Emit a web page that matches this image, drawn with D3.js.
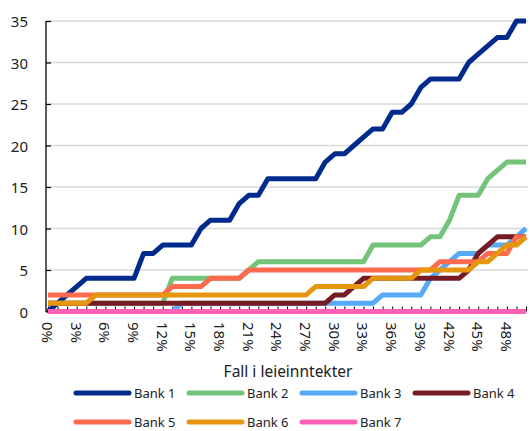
<!DOCTYPE html>
<html><head><meta charset="utf-8">
<script src="https://cdn.jsdelivr.net/npm/d3@7/dist/d3.min.js"></script>
<style>body{margin:0;background:#fff;} text{font-family:"Noto Sans","Open Sans",sans-serif;fill:#222;}</style>
</head><body><svg id="c" width="530" height="431"></svg>
<script>
const categories = [0,1,2,3,4,5,6,7,8,9,10,11,12,13,14,15,16,17,18,19,20,21,22,23,24,25,26,27,28,29,30,31,32,33,34,35,36,37,38,39,40,41,42,43,44,45,46,47,48,49,50];
const bank1 = [0,1,2,3,4,4,4,4,4,4,7,7,8,8,8,8,10,11,11,11,13,14,14,16,16,16,16,16,16,18,19,19,20,21,22,22,24,24,25,27,28,28,28,28,30,31,32,33,33,35,35];
const bank2 = [1,1,1,1,1,1,1,1,1,1,1,1,1,4,4,4,4,4,4,4,4,5,6,6,6,6,6,6,6,6,6,6,6,6,8,8,8,8,8,8,9,9,11,14,14,14,16,17,18,18,18];
const bank3 = [0,0,0,0,0,0,0,0,0,0,0,0,0,0,1,1,1,1,1,1,1,1,1,1,1,1,1,1,1,1,1,1,1,1,1,2,2,2,2,2,4,5,6,7,7,7,8,8,8,9,10];
const bank4 = [1,1,1,1,1,1,1,1,1,1,1,1,1,1,1,1,1,1,1,1,1,1,1,1,1,1,1,1,1,1,2,2,3,4,4,4,4,4,4,4,4,4,4,4,5,7,8,9,9,9,9];
const bank5 = [2,2,2,2,2,2,2,2,2,2,2,2,2,3,3,3,3,4,4,4,4,5,5,5,5,5,5,5,5,5,5,5,5,5,5,5,5,5,5,5,5,6,6,6,6,6,7,7,7,9,9];
const bank6 = [1,1,1,1,1,2,2,2,2,2,2,2,2,2,2,2,2,2,2,2,2,2,2,2,2,2,2,2,3,3,3,3,3,3,4,4,4,4,4,5,5,5,5,5,5,6,6,7,8,8,9];
const bank7 = [0,0,0,0,0,0,0,0,0,0,0,0,0,0,0,0,0,0,0,0,0,0,0,0,0,0,0,0,0,0,0,0,0,0,0,0,0,0,0,0,0,0,0,0,0,0,0,0,0,0,0];
const seriesNames = ["Bank 1","Bank 2","Bank 3","Bank 4","Bank 5","Bank 6","Bank 7"];
const seriesColors = ["#002a8c","#73c378","#57aaf8","#761b24","#fe6a4e","#e6950f","#ff62b5"];
const yTicks = [0,5,10,15,20,25,30,35];
const xLabelTicks = [0,3,6,9,12,15,18,21,24,27,30,33,36,39,42,45,48];
const xTitle = "Fall i leieinntekter";

const series = [bank1,bank2,bank3,bank4,bank5,bank6,bank7];
const svg = d3.select("#c");
const x = d3.scaleLinear().domain([0,50]).range([48,526]);
const y = d3.scaleLinear().domain([0,35]).range([311.5,21]);
const axisX = 46;

// gridlines
svg.append("g").selectAll("line").data(yTicks.filter(d=>d>0)).join("line")
  .attr("x1",axisX).attr("x2",528).attr("y1",d=>y(d)).attr("y2",d=>y(d))
  .attr("stroke","#d9d9d9").attr("stroke-width",1.5);

// y axis
const ya = svg.append("g").attr("transform",`translate(${axisX},0)`)
  .call(d3.axisRight(y).tickValues(yTicks).tickSize(5).tickFormat(""));
ya.select(".domain").attr("stroke","#000").attr("stroke-width",1.3).attr("d",`M0,${y(35)}V${y(0)+0.5}`);
ya.selectAll(".tick line").attr("stroke","#000").attr("stroke-width",1.2);
svg.append("g").selectAll("text").data(yTicks).join("text")
  .attr("x",28).attr("y",d=>y(d)).attr("text-anchor","end").attr("dominant-baseline","central")
  .style("font-size","15px").text(d=>d);

// x axis ticks
const xa = svg.append("g").attr("transform",`translate(0,${y(0)})`)
  .call(d3.axisTop(x).tickValues(categories).tickSize(5).tickFormat(""));
xa.select(".domain").attr("stroke","#000").attr("d",`M${axisX},0H526`);
xa.selectAll(".tick line").attr("stroke","#000").attr("stroke-width",1);
svg.append("g").selectAll("text").data(xLabelTicks).join("text")
  .attr("transform",d=>`translate(${x(d)},322) rotate(90)`)
  .attr("text-anchor","start").attr("dominant-baseline","central")
  .style("font-size","15px").text(d=>d+"%");

// lines
const line = d3.line().x((d,i)=>x(categories[i])).y(d=>y(d));
svg.append("g").selectAll("path").data(series).join("path")
  .attr("d",d=>line(d)).attr("fill","none")
  .attr("stroke",(d,i)=>seriesColors[i]).attr("stroke-width",5)
  .attr("stroke-linejoin","round");

// title
svg.append("text").attr("x",288).attr("y",377).attr("text-anchor","middle")
  .style("font-size","15.5px").text(xTitle);

// legend
const lx = [76,189,302,415], ly = [393,422];
const lg = svg.append("g").selectAll("g").data(seriesNames).join("g")
  .attr("transform",(d,i)=>`translate(${lx[i%4]},${ly[Math.floor(i/4)]})`);
lg.append("line").attr("x1",0).attr("x2",53).attr("y1",0).attr("y2",0)
  .attr("stroke",(d,i)=>seriesColors[i]).attr("stroke-width",5).attr("stroke-linecap","round");
lg.append("text").attr("x",58).attr("y",0).attr("dominant-baseline","central")
  .style("font-size","13px").text(d=>d);
</script></body></html>
